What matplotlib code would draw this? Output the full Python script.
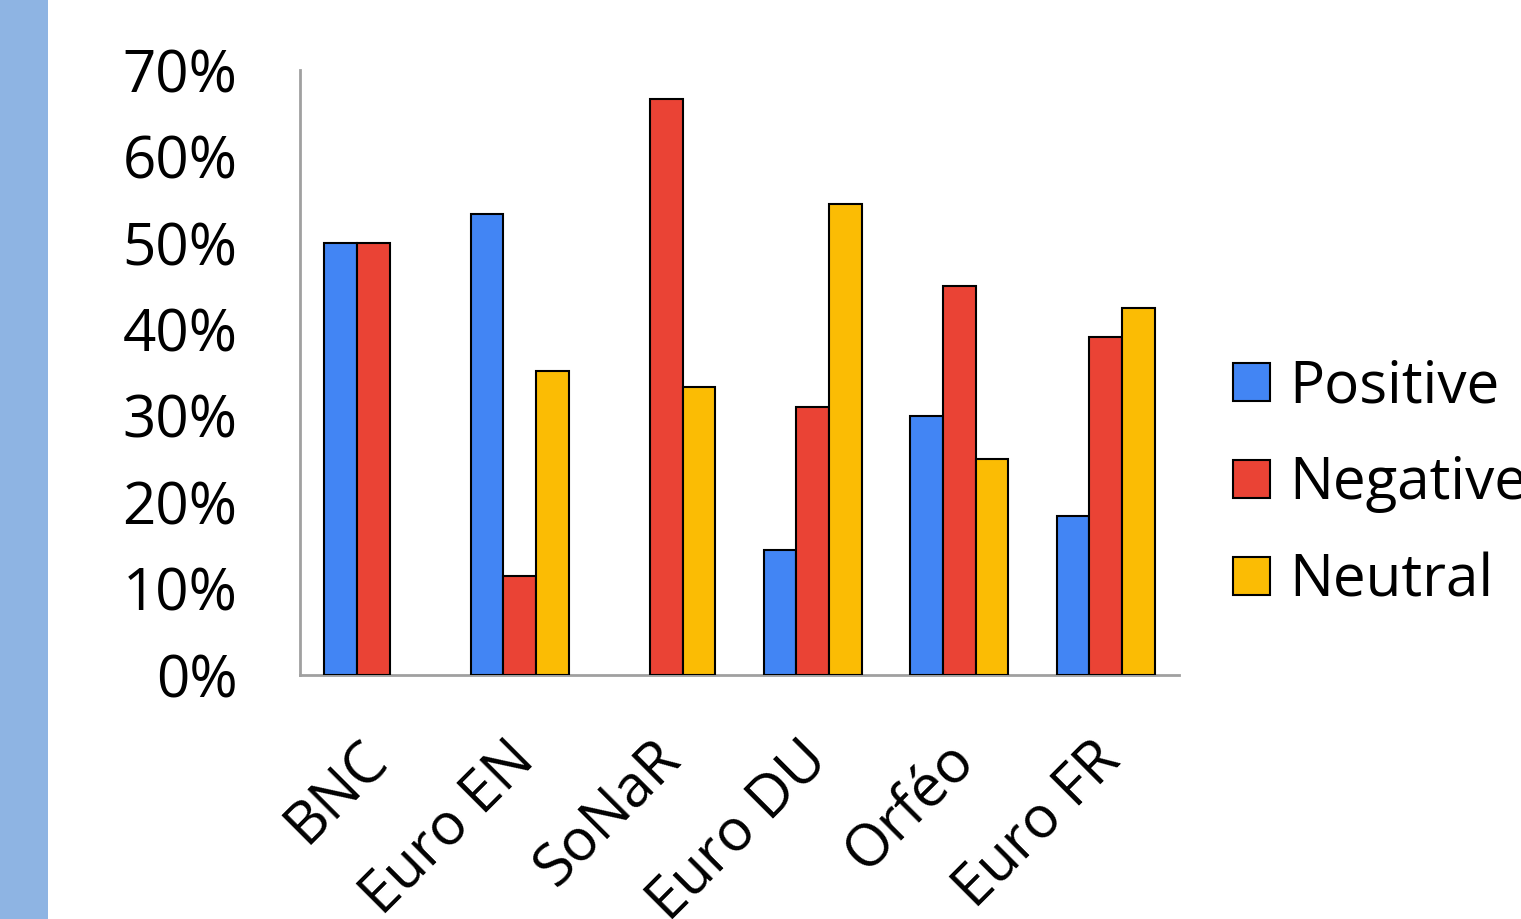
import matplotlib
matplotlib.use("Agg")
import matplotlib.pyplot as plt
from matplotlib.patches import Rectangle
from matplotlib.ticker import FuncFormatter, MultipleLocator
import matplotlib.transforms as mtransforms
import numpy as np

categories = ["BNC", "Euro EN", "SoNaR", "Euro DU", "Orféo", "Euro FR"]
positive = [0.50, 0.533, 0.0, 0.145, 0.30, 0.184]
negative = [0.50, 0.115, 0.666, 0.31, 0.45, 0.391]
neutral = [0.0, 0.352, 0.333, 0.545, 0.25, 0.425]
series_names = ["Positive", "Negative", "Neutral"]
colors = ["#4285F4", "#EA4335", "#FBBC04"]

plt.rcParams['font.family'] = ['Open Sans', 'DejaVu Sans']

W, H = 1521, 919
fig = plt.figure(figsize=(W / 100, H / 100), dpi=100)
fig.patch.set_facecolor("white")

# left decorative strip
fig.add_artist(Rectangle((0, 0), 48 / W, 1, transform=fig.transFigure,
                         facecolor="#8EB4E3", edgecolor="none", zorder=0))

ax = fig.add_axes([300 / W, 1 - 675 / H, (1179 - 300) / W, (675 - 70) / H])
x = np.arange(len(categories))
bw = 0.222
for i, (vals, name, c) in enumerate(zip([positive, negative, neutral], series_names, colors)):
    lws = [1.5 if v > 0 else 0 for v in vals]
    ax.bar(x + (i - 1) * bw, vals, width=bw, color=c, edgecolor="black",
           linewidth=lws, label=name, zorder=3)

ax.set_xlim(-0.5, len(categories) - 0.5)
ax.set_ylim(0, 0.70)
ax.yaxis.set_major_locator(MultipleLocator(0.10))
ax.yaxis.set_major_formatter(FuncFormatter(lambda v, p: f"{v*100:.0f}%"))

for s in ["top", "right"]:
    ax.spines[s].set_visible(False)
for s in ["left", "bottom"]:
    ax.spines[s].set_color("#A0A0A0")
    ax.spines[s].set_linewidth(2)

ax.tick_params(axis="both", length=0)
ax.tick_params(axis="y", labelsize=42, pad=45)
ax.set_xticks(x)
ax.set_xticklabels(categories, rotation=45, ha="right", va="top",
                   rotation_mode="anchor", fontsize=42)
ax.tick_params(axis="x", pad=40)
offset = mtransforms.ScaledTranslation(-15 / 100, 0, fig.dpi_scale_trans)
for lbl in ax.get_xticklabels():
    lbl.set_transform(lbl.get_transform() + offset)

leg = fig.legend(loc="center left", bbox_to_anchor=(1233 / W, 1 - 484 / H),
                 frameon=False, fontsize=42, handlelength=0.63,
                 handleheight=0.63, handletextpad=0.33, labelspacing=0.66,
                 borderaxespad=0, borderpad=0)
for h in leg.legend_handles:
    h.set_edgecolor("black")
    h.set_linewidth(1.5)

fig.savefig("out.png", dpi=100)
